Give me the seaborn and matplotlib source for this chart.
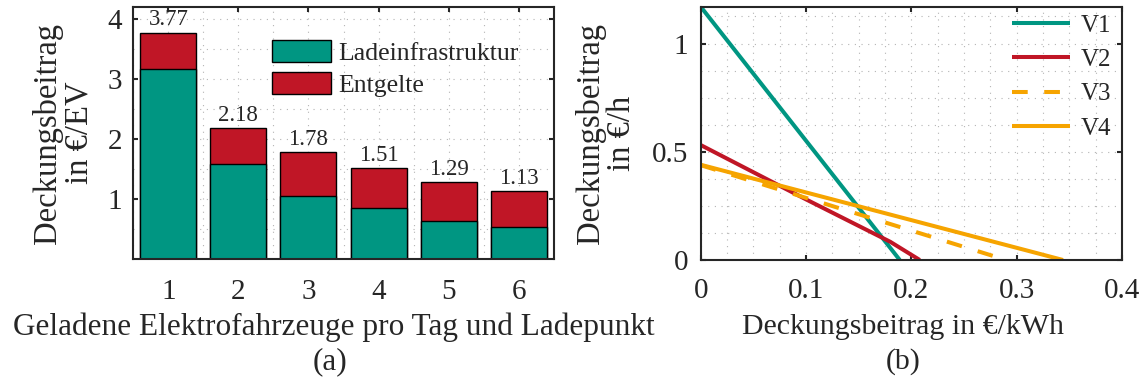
import numpy as np
import pandas as pd
import matplotlib
matplotlib.use("Agg")
import matplotlib.pyplot as plt
from matplotlib.ticker import MultipleLocator, FuncFormatter
from matplotlib.patches import Patch
from matplotlib.lines import Line2D
import seaborn as sns

# ---------------- data ----------------
vehicles = [1, 2, 3, 4, 5, 6]
total = [3.77, 2.18, 1.78, 1.51, 1.29, 1.13]
infra = [3.17, 1.59, 1.06, 0.86, 0.64, 0.53]
fees = [t - i for t, i in zip(total, infra)]
bar_labels = ["3.77", "2.18", "1.78", "1.51", "1.29", "1.13"]

v1_x = [0.0, 0.189]
v1_y = [1.17, 0.0]
v2_x = [0.0, 0.1, 0.18, 0.208]
v2_y = [0.531, 0.28, 0.084, 0.0]
v3_x = [0.0, 0.29]
v3_y = [0.438, 0.0]
v4_x = [0.0, 0.344]
v4_y = [0.44, 0.0]

GREEN = "#009682"
RED = "#c01626"
ORANGE = "#f6a400"
TXT = "#262626"

sns.set_theme(style="white")
plt.rcParams["font.family"] = ["Liberation Serif", "DejaVu Serif"]
plt.rcParams["text.color"] = TXT
plt.rcParams["axes.labelcolor"] = TXT
plt.rcParams["xtick.color"] = TXT
plt.rcParams["ytick.color"] = TXT

W, H = 1143, 385
fig = plt.figure(figsize=(W / 100, H / 100), dpi=100)

def px_axes(x0, y0, x1, y1):
    return fig.add_axes([x0 / W, 1 - y1 / H, (x1 - x0) / W, (y1 - y0) / H])

ax1 = px_axes(133.3, 6.7, 553.7, 259.3)
ax2 = px_axes(700.7, 6.7, 1122.0, 260.0)

TICK_FS = 21
LAB_FS = 22.5
LAB2_FS = 21.5
YLAB_FS = 23.5
BAR_FS = 16.5

grid_kw = dict(color="#b4b4b4", linewidth=0.8, linestyle=(0, (1, 5)))

def style_axes(ax):
    for s in ax.spines.values():
        s.set_visible(True)
        s.set_color(TXT)
        s.set_linewidth(1.5)
    ax.tick_params(which="major", direction="in", length=3.5, width=1.5,
                   top=True, right=True, bottom=True, left=True,
                   labelsize=TICK_FS, pad=8, colors=TXT)
    ax.tick_params(which="minor", length=0)
    ax.grid(True, which="both", **grid_kw)
    ax.set_axisbelow(True)

# ---------------- left: stacked bars ----------------
df = pd.DataFrame({"n": vehicles, "total": total, "infra": infra})
sns.barplot(data=df, x="n", y="total", native_scale=True, color=RED,
            saturation=1, edgecolor="black", linewidth=1.0, width=0.8, ax=ax1)
sns.barplot(data=df, x="n", y="infra", native_scale=True, color=GREEN,
            saturation=1, edgecolor="black", linewidth=1.0, width=0.8, ax=ax1)
ax1.set_xlim(0.5, 6.5)
ax1.set_ylim(0, 4.2)
ax1.xaxis.set_major_locator(MultipleLocator(1))
ax1.xaxis.set_minor_locator(MultipleLocator(0.5))
ax1.yaxis.set_minor_locator(MultipleLocator(0.5))
ax1.set_yticks([1, 2, 3, 4])
ax1.yaxis.set_major_formatter(FuncFormatter(lambda v, p: "%g" % v))
ax1.xaxis.set_major_formatter(FuncFormatter(lambda v, p: "%g" % v))
style_axes(ax1)
ax1.tick_params(axis="x", pad=14)
ax1.tick_params(axis="y", pad=8)
ax1.set_xlabel("")
ax1.set_ylabel("Deckungsbeitrag\nin €/EV", fontsize=YLAB_FS, linespacing=1.0)
ax1.yaxis.set_label_coords((94 - 133.3) / 420.4, 0.5)

for xv, t, lab in zip(vehicles, total, bar_labels):
    ax1.annotate(lab, (xv, t), xytext=(0, 1.5), textcoords="offset points",
                 ha="center", va="bottom", fontsize=BAR_FS)

leg1 = ax1.legend(handles=[Patch(facecolor=GREEN, edgecolor="black", linewidth=1.0, label="Ladeinfrastruktur"),
                           Patch(facecolor=RED, edgecolor="black", linewidth=1.0, label="Entgelte")],
                  loc="upper left", bbox_to_anchor=((271.7 - 133.3) / 420.4, 1 - (40 - 6.7) / 252.6),
                  frameon=False, fontsize=18.5, handlelength=2.3, handleheight=0.92,
                  labelspacing=0.28, handletextpad=0.3, borderpad=0, borderaxespad=0)

fig.text(334 / W, 1 - 327 / H, "Geladene Elektrofahrzeuge pro Tag und Ladepunkt",
         ha="center", va="center", fontsize=LAB_FS)
fig.text(330 / W, 1 - 362 / H, "(a)", ha="center", va="center", fontsize=LAB_FS)

# ---------------- right: lines ----------------
series = [("V1", v1_x, v1_y, GREEN), ("V2", v2_x, v2_y, RED),
          ("V3", v3_x, v3_y, ORANGE), ("V4", v4_x, v4_y, ORANGE)]
for name, xs, ys, col in series:
    d = pd.DataFrame({"x": xs, "y": ys})
    sns.lineplot(data=d, x="x", y="y", color=col, linewidth=2.9, ax=ax2,
                 sort=False, estimator=None)
    ln = ax2.lines[-1]
    ln.set_solid_capstyle("butt")
    if name == "V3":
        ln.set_linestyle((0, (3.9, 4.1)))
        ln.set_dash_capstyle("butt")

ax2.set_xlim(0, 0.4)
ax2.set_ylim(0, 1.17)
ax2.xaxis.set_major_locator(MultipleLocator(0.1))
ax2.xaxis.set_minor_locator(MultipleLocator(0.025))
ax2.yaxis.set_major_locator(MultipleLocator(0.5))
ax2.yaxis.set_minor_locator(MultipleLocator(0.125))
ax2.xaxis.set_major_formatter(FuncFormatter(lambda v, p: "%g" % round(v, 3)))
ax2.yaxis.set_major_formatter(FuncFormatter(lambda v, p: "%g" % round(v, 3)))
style_axes(ax2)
ax2.tick_params(axis="x", pad=13)
ax2.tick_params(axis="y", pad=9)
ax2.set_xlabel("")
ax2.set_ylabel("Deckungsbeitrag\nin €/h", fontsize=YLAB_FS, linespacing=1.0)
ax2.yaxis.set_label_coords((637 - 700.7) / 421.3, 0.5)

handles = [Line2D([], [], color=GREEN, lw=2.9, label="V1"),
           Line2D([], [], color=RED, lw=2.9, label="V2"),
           Line2D([], [], color=ORANGE, lw=2.9, linestyle=(0, (3.9, 4.1)), label="V3"),
           Line2D([], [], color=ORANGE, lw=2.9, label="V4")]
for h in handles:
    h.set_solid_capstyle("butt")
    h.set_dash_capstyle("butt")
ax2.legend(handles=handles, loc="upper left",
           bbox_to_anchor=((1011.7 - 700.7) / 421.3, 1 - (14 - 6.7) / 253.3),
           frameon=False, fontsize=18, handlelength=2.35, labelspacing=0.48,
           handletextpad=0.4, borderpad=0, borderaxespad=0)

fig.text(903 / W, 1 - 327 / H, "Deckungsbeitrag in €/kWh",
         ha="center", va="center", fontsize=LAB2_FS)
fig.text(903 / W, 1 - 362 / H, "(b)", ha="center", va="center", fontsize=LAB2_FS)

fig.savefig("out.png", dpi=100)
